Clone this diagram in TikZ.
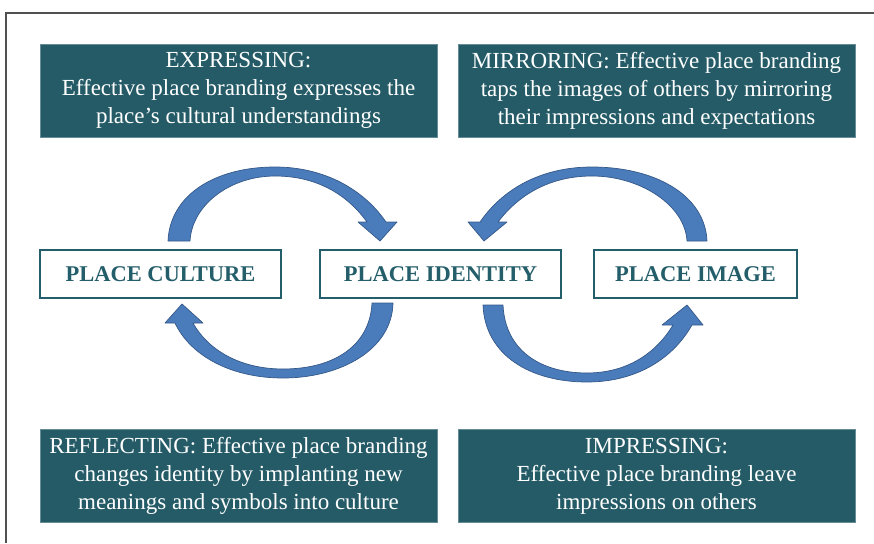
\documentclass[tikz,border=0pt]{standalone}
\usepackage{fontspec}
\setmainfont{Liberation Serif}
\definecolor{teal1}{RGB}{36,91,103}
\definecolor{tealtxt}{RGB}{36,94,106}
\definecolor{arrowfill}{RGB}{74,124,188}
\definecolor{arrowline}{RGB}{52,88,135}
\definecolor{framegray}{RGB}{80,80,80}
\begin{document}
\begin{tikzpicture}[x=1pt,y=-1pt,
  infobox/.style={fill=teal1,draw=teal1!70!white,line width=0.6pt,text=white,align=center,
    minimum width=397pt,minimum height=93pt,inner sep=0pt,
    font=\fontsize{23}{28}\selectfont},
  placebox/.style={draw=tealtxt,line width=2pt,fill=white,text=tealtxt,
    minimum height=48pt,inner sep=0pt,font=\fontsize{22.5}{26}\selectfont\bfseries},
  blockarrow/.style={fill=arrowfill,draw=arrowline,line width=0.7pt,line join=round}]
\useasboundingbox (0,0) rectangle (874,543);
% frame
\coordinate (fTL) at (6,13);
\coordinate (fTR) at (874,13);
\coordinate (fBL) at (6,543);
\draw[framegray,line width=1.6pt] (fTR) -- (fTL) -- (fBL);
% info boxes
\node[infobox] (expr) at (238.5,90.5) {EXPRESSING:\\Effective place branding expresses the\\place’s cultural understandings};
\node[infobox] (mirr) at (656.5,90.5) {MIRRORING: Effective place branding\\taps the images of others by mirroring\\their impressions and expectations};
\node[infobox] (refl) at (238.5,476) {REFLECTING: Effective place branding\\changes identity by implanting new\\meanings and symbols into culture};
\node[infobox] (impr) at (656.5,476) {IMPRESSING:\\Effective place branding leave\\impressions on others};
% place boxes
\node[placebox,minimum width=241pt] (culture) at (160.5,274) {PLACE CULTURE};
\node[placebox,minimum width=241pt] (identity) at (440.5,274) {PLACE IDENTITY};
\node[placebox,minimum width=203pt] (image) at (695.5,274) {PLACE IMAGE};
% curved block arrows
% culture -> identity (top left)
\draw[blockarrow] (168,241) .. controls (170,195) and (215,167) .. (275,167)
  .. controls (325,167) and (364,190) .. (386,222) -- (397,222) -- (380,241) -- (358,222) -- (367,222)
  .. controls (346,193) and (315,176) .. (275,176)
  .. controls (230,176) and (192,205) .. (190,241) -- cycle;
% image -> identity (top right)
\draw[blockarrow] (707,241) .. controls (705,195) and (655,167) .. (592,167)
  .. controls (540,167) and (502,190) .. (480,222) -- (468,222) -- (484,241) -- (507,222) -- (498,222)
  .. controls (520,193) and (552,176) .. (592,176)
  .. controls (640,176) and (685,205) .. (687,241) -- cycle;
% identity -> culture (bottom left)
\draw[blockarrow] (393,303) .. controls (392,350) and (340,378) .. (283,378)
  .. controls (230,378) and (190,355) .. (175,323) -- (165,323) -- (182,304) -- (203,323) -- (193,323)
  .. controls (208,350) and (240,369) .. (283,369)
  .. controls (335,369) and (370,345) .. (372,303) -- cycle;
% identity -> image (bottom right)
\draw[blockarrow] (483,305) .. controls (485,355) and (530,382) .. (587,382)
  .. controls (635,382) and (672,360) .. (692,325) -- (703,325) -- (687,305) -- (662,325) -- (673,325)
  .. controls (655,355) and (625,373) .. (587,373)
  .. controls (540,373) and (505,350) .. (503,305) -- cycle;
\end{tikzpicture}
\end{document}
